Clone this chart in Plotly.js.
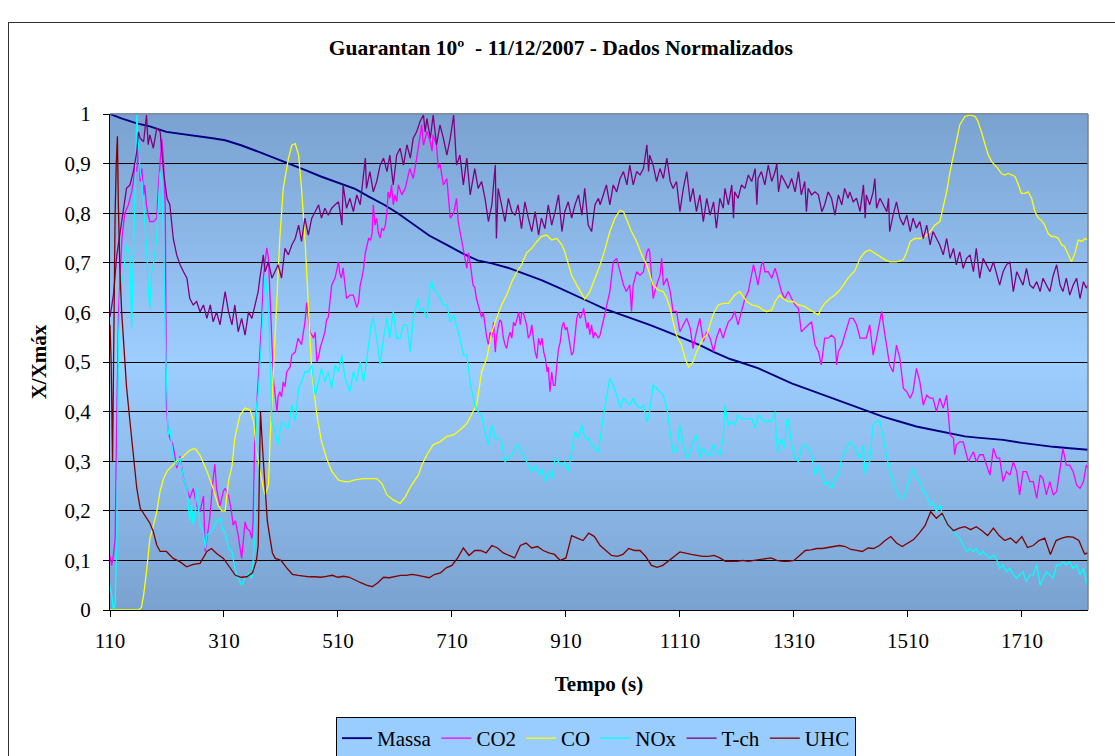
<!DOCTYPE html>
<html>
<head>
<meta charset="utf-8">
<script src="https://cdn.plot.ly/plotly-3.0.1.min.js"></script>
<style>
html,body{margin:0;padding:0;background:#fff;width:1115px;height:756px;overflow:hidden;}
#chart{position:absolute;left:0;top:0;width:1115px;height:756px;}
#frame{position:absolute;left:8px;top:22px;width:1130px;height:760px;border:1px solid #333;pointer-events:none;}
</style>
</head>
<body>
<div id="chart"></div>
<div id="frame"></div>
<script>
// ---------- data ----------
const seriesNames = ["Massa", "CO2", "CO", "NOx", "T-ch", "UHC"];
const xTicks = [110, 310, 510, 710, 910, 1110, 1310, 1510, 1710];
const yTicks = [0, 0.1, 0.2, 0.3, 0.4, 0.5, 0.6, 0.7, 0.8, 0.9, 1];
const yTickText = ["0", "0,1", "0,2", "0,3", "0,4", "0,5", "0,6", "0,7", "0,8", "0,9", "1"];

const massaT = [110,130,157,180,209,230,260,290,312,340,370,400,429,455,480,510,540,565,591,615,642,670,701,730,755,780,808,837,867,895,925,950,978,1000,1028,1057,1087,1115,1145,1170,1198,1220,1248,1275,1306,1335,1364,1390,1417,1440,1466,1495,1525,1555,1584,1610,1636,1677,1710,1736,1765,1794,1826];
const massaV = [1.0,0.991,0.981,0.975,0.964,0.961,0.956,0.951,0.947,0.937,0.924,0.911,0.898,0.886,0.874,0.862,0.849,0.833,0.817,0.8,0.777,0.755,0.736,0.718,0.705,0.699,0.69,0.678,0.665,0.651,0.636,0.622,0.607,0.598,0.588,0.575,0.561,0.548,0.534,0.52,0.506,0.498,0.487,0.473,0.457,0.445,0.433,0.421,0.41,0.4,0.39,0.38,0.37,0.363,0.356,0.35,0.347,0.343,0.337,0.333,0.329,0.326,0.323];

const co2T = [110,113,116,119,122,125,128,131,136,142,148,151,154,157,160,163,166,169,171,174,177,180,186,192,195,198,201,204,207,209,212,215,220,224,227,233,239,245,250,256,262,268,274,277,280,285,291,294,297,303,309,
312,318,323,326,330,335,338,341,344,347,350,355,359,361,364,367,370,373,376,379,382,385,388,391,394,397,400,403,405,408,411,414,417,420,426,429,435,440,446,452,455,458,461,464,467,470,473,476,479,482,487,490,493,499,505,511,513,516,519,525,531,537,
543,546,549,552,555,558,561,564,567,570,572,575,578,581,584,587,590,593,596,598,601,604,607,610,613,616,622,628,636,642,648,654,657,660,666,672,675,677,683,686,689,695,701,704,707,713,718,721,724,730,736,739,742,747,
750,753,759,762,765,768,771,774,777,780,783,786,788,791,794,797,800,803,806,809,812,815,818,821,824,827,830,832,835,838,841,844,847,850,853,856,859,862,865,868,871,874,877,879,882,885,888,891,894,897,900,903,906,909,912,915,918,920,923,926,929,932,935,938,941,944,947,949,952,955,958,961,964,967,970,
976,981,987,993,999,1005,1011,1016,1022,1025,1028,1034,1040,1046,1052,1055,1057,1063,1069,1075,1078,1081,1087,1093,1098,1104,1110,1116,1122,1128,1133,1139,1145,1151,1157,1163,1169,1174,1180,1186,
1189,1195,1201,1206,1212,1218,1224,1230,1236,1239,1242,1247,1253,1256,1259,1265,1271,1277,1282,1288,1294,1300,1306,1312,1318,1323,1329,1335,1341,1347,1353,1358,1364,1370,1376,1382,1385,1388,1394,1399,1405,
1408,1414,1420,1426,1432,1437,1443,1449,1455,1461,1464,1467,1473,1478,1484,1490,1496,1502,1508,1514,1519,1525,1531,1537,1543,1549,1554,1560,1566,1572,1578,1584,1590,1592,1595,1601,1607,1613,1616,
1619,1625,1630,1636,1642,1648,1654,1660,1666,1671,1677,1683,1689,1695,1701,1706,1712,1718,1724,1730,1736,1742,1747,1753,1759,1765,1771,1777,1782,1788,1794,1800,1806,1812,1818,1823,1826];
const co2V = [0.11,0.09,0.11,0.144,0.4,0.6,0.68,0.75,0.8,0.816,0.843,0.864,0.897,0.884,0.937,0.864,0.89,0.836,0.857,0.816,0.796,0.783,0.783,0.79,0.857,0.904,0.95,0.904,0.815,0.413,0.36,0.346,0.335,0.31,0.286,0.31,0.265,0.245,0.225,0.245,0.21,0.198,0.23,0.118,0.145,0.185,0.265,0.294,0.245,0.21,0.24,
0.245,0.23,0.2,0.171,0.18,0.15,0.13,0.104,0.14,0.178,0.165,0.16,0.144,0.178,0.346,0.41,0.447,0.51,0.58,0.669,0.7,0.73,0.71,0.615,0.514,0.46,0.43,0.4,0.43,0.44,0.43,0.46,0.45,0.48,0.49,0.514,0.52,0.548,0.535,0.58,0.62,0.588,0.56,0.555,0.548,0.56,0.5,0.51,0.53,0.54,0.56,0.585,0.59,0.655,0.67,0.702,0.68,0.669,0.69,0.628,0.635,0.635,
0.61,0.62,0.655,0.67,0.689,0.72,0.736,0.75,0.745,0.76,0.817,0.776,0.79,0.76,0.75,0.77,0.765,0.775,0.803,0.843,0.83,0.857,0.817,0.837,0.823,0.857,0.837,0.85,0.89,0.87,0.91,0.95,0.978,0.937,0.965,0.944,0.925,0.958,0.937,0.89,0.9,0.857,0.87,0.83,0.79,0.8,0.83,0.783,0.763,0.722,0.689,0.72,0.7,0.655,
0.65,0.628,0.6,0.59,0.6,0.57,0.55,0.535,0.56,0.55,0.58,0.52,0.55,0.57,0.585,0.58,0.55,0.535,0.527,0.548,0.56,0.548,0.58,0.573,0.588,0.6,0.575,0.598,0.6,0.588,0.575,0.548,0.555,0.575,0.548,0.52,0.507,0.548,0.534,0.548,0.52,0.507,0.48,0.49,0.44,0.48,0.453,0.453,0.494,0.527,0.54,0.57,0.58,0.565,0.57,0.548,0.534,0.514,0.52,0.56,0.588,0.6,0.588,0.595,0.608,0.588,0.568,0.58,0.555,0.575,0.548,0.56,0.555,0.548,0.555,
0.588,0.615,0.642,0.702,0.709,0.682,0.655,0.642,0.655,0.602,0.655,0.682,0.675,0.682,0.722,0.729,0.722,0.628,0.655,0.675,0.709,0.655,0.669,0.642,0.602,0.602,0.561,0.575,0.588,0.568,0.527,0.561,0.588,0.541,0.561,0.548,0.521,0.548,0.568,0.548,
0.561,0.581,0.588,0.602,0.575,0.602,0.628,0.642,0.682,0.696,0.682,0.655,0.696,0.702,0.682,0.682,0.669,0.689,0.669,0.642,0.628,0.642,0.628,0.615,0.608,0.561,0.568,0.575,0.581,0.534,0.521,0.494,0.548,0.548,0.554,0.548,0.494,0.521,0.534,0.554,0.575,
0.588,0.588,0.575,0.548,0.548,0.548,0.575,0.514,0.548,0.588,0.602,0.575,0.534,0.494,0.48,0.534,0.507,0.447,0.44,0.427,0.44,0.487,0.46,0.413,0.433,0.427,0.427,0.4,0.427,0.407,0.433,0.353,0.346,0.313,0.333,0.339,0.339,0.313,0.299,
0.306,0.319,0.299,0.313,0.313,0.292,0.272,0.326,0.306,0.306,0.259,0.279,0.272,0.299,0.279,0.232,0.279,0.279,0.259,0.259,0.225,0.272,0.265,0.232,0.259,0.232,0.239,0.285,0.326,0.292,0.292,0.279,0.252,0.245,0.259,0.292,0.286];

const coT = [110,160,165,169,174,180,186,192,198,204,210,218,227,239,250,259,268,280,291,300,306,312,318,324,329,338,347,356,362,367,373,379,382,388,391,397,403,408,414,423,429,435,441,446,452,458,464,473,481,490,499,511,522,531,537,555,578,587,596,607,619,628,639,651,657,666,677,689,701,713,724,736,748,753,756,762,771,780,788,797,806,815,824,832,841,850,859,867,876,885,894,903,908,914,920,929,938,943,952,961,970,978,987,996,1005,1011,1017,1025,1034,1043,1052,1057,1063,1072,1081,1087,1093,1098,1104,1113,1119,1125,1133,1139,1145,1151,1157,1163,1169,1177,1186,1195,1206,1215,1221,1227,1236,1247,1256,1262,1271,1277,1285,1291,1300,1309,1318,1329,1338,1347,1353,1358,1364,1373,1382,1388,1397,1405,1417,1426,1435,1443,1452,1461,1470,1478,1490,1502,1508,1514,1522,1531,1540,1549,1557,1566,1572,1578,1584,1590,1595,1601,1610,1619,1628,1633,1639,1645,1651,1657,1663,1668,1674,1680,1686,1692,1698,1704,1709,1715,1721,1727,1733,1739,1744,1750,1756,1762,1768,1774,1780,1785,1791,1797,1803,1809,1815,1821,1826];
const coV = [0,0,0.005,0.03,0.077,0.144,0.17,0.198,0.24,0.265,0.28,0.29,0.3,0.31,0.322,0.326,0.312,0.28,0.245,0.21,0.2,0.2,0.26,0.29,0.346,0.393,0.407,0.403,0.38,0.32,0.28,0.245,0.232,0.252,0.346,0.48,0.615,0.75,0.85,0.91,0.937,0.94,0.917,0.85,0.75,0.615,0.48,0.393,0.34,0.306,0.28,0.262,0.259,0.259,0.262,0.265,0.265,0.255,0.232,0.222,0.215,0.228,0.252,0.272,0.292,0.313,0.333,0.339,0.35,0.353,0.363,0.376,0.4,0.413,0.433,0.48,0.507,0.56,0.588,0.615,0.635,0.662,0.682,0.696,0.72,0.729,0.743,0.753,0.756,0.746,0.749,0.736,0.722,0.696,0.675,0.655,0.635,0.627,0.642,0.669,0.696,0.725,0.763,0.79,0.806,0.803,0.786,0.763,0.743,0.716,0.696,0.675,0.655,0.645,0.642,0.628,0.608,0.581,0.554,0.534,0.507,0.49,0.5,0.52,0.534,0.548,0.554,0.575,0.598,0.615,0.618,0.618,0.635,0.642,0.632,0.622,0.615,0.612,0.605,0.601,0.605,0.622,0.635,0.628,0.622,0.622,0.615,0.612,0.605,0.598,0.595,0.608,0.618,0.628,0.635,0.642,0.655,0.669,0.684,0.709,0.722,0.726,0.719,0.712,0.706,0.702,0.702,0.706,0.722,0.743,0.749,0.749,0.753,0.763,0.776,0.783,0.81,0.843,0.884,0.917,0.951,0.978,0.995,0.998,0.995,0.985,0.964,0.938,0.917,0.904,0.897,0.89,0.88,0.877,0.88,0.877,0.874,0.857,0.84,0.84,0.843,0.83,0.803,0.79,0.786,0.776,0.759,0.753,0.753,0.749,0.736,0.733,0.719,0.702,0.719,0.746,0.743,0.749,0.746];

const noxT = [110,113,116,119,122,125,128,133,139,145,148,151,154,157,160,163,166,169,171,174,177,180,183,186,192,195,198,201,204,207,210,212,215,221,227,233,239,245,248,250,253,256,259,262,268,274,277,280,288,297,303,309,
312,318,324,329,335,341,347,353,359,364,367,370,376,382,388,391,394,400,405,411,417,423,429,435,441,446,452,458,464,470,476,481,487,493,499,505,511,517,522,528,
531,537,543,549,555,560,566,569,572,578,584,590,596,601,607,613,619,625,631,637,642,648,651,654,660,666,672,675,677,683,689,695,701,707,713,718,724,730,736,742,748,
750,756,762,768,774,780,786,791,797,803,809,815,821,826,832,838,844,850,856,862,867,873,879,885,891,897,903,908,914,920,926,932,938,943,949,955,961,967,
975,981,987,993,999,1005,1011,1016,1022,1028,1034,1040,1046,1052,1057,1063,1069,1075,1081,1087,1093,1098,1104,1110,1116,1122,1128,1133,1139,1145,1151,1157,1163,1169,1174,1180,1186,
1189,1195,1201,1206,1212,1218,1224,1230,1236,1242,1247,1253,1259,1265,1271,1277,1280,1282,1288,1294,1297,1300,1306,1312,1318,1323,1329,1335,1341,1347,1353,1358,1364,1370,1376,1382,1388,1394,1399,1405,
1408,1414,1420,1426,1432,1435,1437,1443,1449,1455,1461,1467,1473,1478,1484,1490,1496,1502,1508,1514,1519,1525,1531,1537,1543,1549,1554,1560,1566,1572,1578,1584,1590,1595,1601,1607,1613,
1619,1625,1630,1636,1642,1648,1654,1660,1666,1671,1677,1683,1689,1695,1701,1706,1712,1718,1724,1730,1736,1742,1747,1753,1759,1765,1771,1777,1782,1788,1794,1800,1806,1812,1818,1823,1826];
const noxV = [0.05,0.03,0.0,0.01,0.145,0.548,0.642,0.675,0.736,0.716,0.568,0.716,0.884,0.998,0.938,0.884,0.864,0.817,0.783,0.736,0.648,0.608,0.682,0.696,0.749,0.817,0.884,0.857,0.749,0.55,0.413,0.353,0.366,0.306,0.292,0.306,0.265,0.245,0.205,0.178,0.212,0.171,0.192,0.245,0.171,0.158,0.124,0.151,0.158,0.178,0.185,0.158,
0.158,0.124,0.118,0.084,0.064,0.05,0.064,0.074,0.064,0.144,0.413,0.433,0.548,0.675,0.615,0.48,0.38,0.36,0.333,0.38,0.373,0.366,0.413,0.38,0.447,0.46,0.48,0.48,0.494,0.433,0.46,0.487,0.46,0.48,0.447,0.494,0.48,0.514,0.47,0.45,
0.44,0.48,0.46,0.5,0.46,0.5,0.554,0.581,0.588,0.548,0.494,0.548,0.588,0.548,0.602,0.548,0.548,0.575,0.575,0.521,0.588,0.615,0.628,0.602,0.608,0.588,0.655,0.662,0.648,0.642,0.628,0.615,0.615,0.581,0.595,0.575,0.548,0.514,0.514,0.46,0.427,
0.413,0.4,0.393,0.36,0.333,0.373,0.346,0.346,0.339,0.299,0.306,0.312,0.326,0.333,0.319,0.306,0.292,0.279,0.292,0.272,0.286,0.259,0.279,0.265,0.306,0.299,0.292,0.299,0.279,0.319,0.36,0.346,0.373,0.346,0.346,0.333,0.326,0.319,
0.386,0.427,0.467,0.454,0.433,0.407,0.427,0.42,0.413,0.427,0.413,0.407,0.413,0.38,0.4,0.454,0.447,0.44,0.433,0.407,0.36,0.319,0.319,0.373,0.333,0.306,0.319,0.339,0.353,0.306,0.326,0.313,0.313,0.333,0.319,0.313,0.346,
0.413,0.373,0.38,0.373,0.393,0.386,0.386,0.386,0.386,0.366,0.393,0.386,0.38,0.38,0.38,0.4,0.333,0.319,0.346,0.326,0.38,0.386,0.333,0.306,0.299,0.326,0.333,0.326,0.313,0.272,0.292,0.279,0.252,0.259,0.245,0.265,0.272,0.306,0.319,0.333,
0.339,0.333,0.319,0.306,0.333,0.272,0.292,0.299,0.373,0.38,0.38,0.346,0.313,0.279,0.259,0.239,0.225,0.225,0.245,0.272,0.286,0.265,0.259,0.239,0.232,0.212,0.218,0.198,0.212,0.185,0.178,0.165,0.158,0.151,0.144,0.131,0.118,
0.124,0.118,0.124,0.111,0.118,0.111,0.104,0.111,0.101,0.084,0.091,0.077,0.084,0.071,0.064,0.071,0.077,0.057,0.071,0.071,0.091,0.05,0.064,0.077,0.071,0.064,0.091,0.091,0.097,0.091,0.097,0.084,0.091,0.071,0.084,0.057,0.05];

const tchT = [110,116,122,128,133,139,145,151,157,160,163,169,174,177,180,186,192,198,204,210,215,221,227,233,239,245,250,256,262,268,274,280,286,291,297,303,
312,318,324,329,335,341,347,353,359,365,370,373,379,382,388,394,400,405,411,417,423,429,435,441,446,452,458,464,470,476,481,487,493,499,505,511,517,519,525,
531,537,543,549,558,560,566,572,578,584,590,596,601,607,613,619,625,631,637,642,648,654,660,663,666,672,677,683,689,695,701,707,713,718,724,730,736,742,748,
750,756,762,768,774,780,786,788,791,797,803,809,815,821,826,832,838,844,850,856,862,867,873,879,885,891,897,903,908,914,920,926,932,938,943,949,955,961,967,
970,976,981,987,993,999,1005,1011,1017,1022,1028,1034,1040,1046,1052,1055,1057,1063,1069,1075,1081,1087,1093,1098,1104,1110,1116,1122,1128,1133,1139,1145,1151,1157,1163,1169,1174,1180,1186,
1189,1195,1201,1204,1206,1212,1218,1224,1230,1236,1242,1245,1247,1253,1259,1265,1271,1277,1280,1283,1288,1294,1300,1306,1312,1318,1323,1329,1332,1335,1341,1347,1353,1359,1364,1370,1376,1382,1388,1394,1399,1405,
1408,1414,1420,1426,1432,1435,1437,1443,1449,1452,1455,1461,1467,1473,1476,1478,1484,1490,1496,1502,1508,1514,1519,1525,1531,1537,1543,1549,1554,1560,1566,1572,1578,1584,1590,1595,1601,1607,1613,
1619,1625,1630,1636,1642,1648,1654,1660,1666,1671,1677,1683,1689,1695,1701,1706,1712,1718,1724,1730,1736,1742,1747,1753,1759,1765,1771,1777,1782,1788,1794,1800,1806,1812,1818,1823,1826];
const tchV = [0.591,0.635,0.716,0.763,0.803,0.85,0.857,0.884,0.924,0.964,0.951,0.944,0.998,0.938,0.958,0.931,0.971,0.964,0.884,0.83,0.817,0.749,0.716,0.696,0.682,0.669,0.628,0.615,0.622,0.601,0.615,0.588,0.615,0.581,0.601,0.575,
0.642,0.601,0.575,0.615,0.561,0.588,0.554,0.601,0.588,0.615,0.642,0.669,0.716,0.682,0.702,0.669,0.682,0.696,0.669,0.729,0.716,0.736,0.749,0.776,0.743,0.79,0.756,0.79,0.803,0.817,0.79,0.81,0.796,0.81,0.817,0.823,0.776,0.857,0.81,
0.83,0.803,0.837,0.817,0.911,0.85,0.884,0.843,0.864,0.897,0.911,0.884,0.917,0.857,0.917,0.931,0.897,0.938,0.911,0.951,0.964,0.985,0.998,0.964,0.991,0.951,0.998,0.938,0.978,0.951,0.917,0.951,0.998,0.897,0.917,0.857,0.911,0.837,0.884,
0.89,0.85,0.864,0.83,0.783,0.817,0.897,0.749,0.85,0.817,0.783,0.83,0.803,0.796,0.817,0.769,0.823,0.79,0.763,0.803,0.756,0.79,0.769,0.817,0.776,0.803,0.837,0.763,0.803,0.823,0.79,0.817,0.837,0.796,0.85,0.776,0.763,0.817,0.83,
0.817,0.837,0.857,0.817,0.857,0.843,0.87,0.884,0.857,0.897,0.857,0.884,0.877,0.89,0.938,0.884,0.917,0.897,0.864,0.89,0.87,0.911,0.864,0.85,0.864,0.803,0.85,0.884,0.823,0.85,0.803,0.837,0.783,0.83,0.796,0.823,0.77,0.83,0.81,
0.85,0.817,0.857,0.79,0.843,0.83,0.857,0.85,0.877,0.864,0.89,0.817,0.87,0.884,0.857,0.897,0.864,0.884,0.9,0.843,0.877,0.864,0.85,0.87,0.843,0.884,0.837,0.864,0.803,0.85,0.837,0.843,0.837,0.803,0.817,0.843,0.83,0.796,0.837,0.817,0.85,0.83,
0.843,0.823,0.83,0.803,0.857,0.79,0.837,0.817,0.843,0.87,0.81,0.83,0.817,0.803,0.83,0.763,0.796,0.823,0.79,0.776,0.796,0.763,0.79,0.77,0.783,0.749,0.776,0.736,0.763,0.749,0.736,0.716,0.749,0.709,0.729,0.696,0.722,0.689,0.709,
0.716,0.682,0.729,0.669,0.709,0.696,0.682,0.702,0.675,0.655,0.682,0.696,0.702,0.642,0.682,0.669,0.655,0.689,0.655,0.649,0.662,0.642,0.669,0.655,0.642,0.675,0.696,0.655,0.642,0.669,0.635,0.655,0.669,0.628,0.662,0.649,0.655];

const uhcT = [110,112,114.5,117,119,121,123,124.6,127.5,130.5,133.4,139,145,151,157,163,168.5,174,180,186,192,198,209,221,233,244.5,256,268,280,288,297,309,318,330,340,350,360,367,370,374,378,382,386,390,395,400,410,420,430,440,450,460,470,480,490,500,510,520,530,540,550,560,570,580,590,600,610,620,630,640,650,660,670,680,690,700,710,720,730,740,750,760,770,780,790,800,810,820,830,840,850,860,870,880,890,900,910,920,930,940,950,960,970,980,990,1000,1010,1020,1030,1040,1050,1060,1070,1080,1090,1100,1110,1120,1130,1140,1150,1160,1170,1180,1190,1200,1210,1220,1230,1240,1250,1260,1270,1280,1290,1300,1310,1320,1330,1340,1350,1360,1370,1380,1390,1400,1410,1420,1430,1440,1450,1460,1470,1480,1490,1500,1510,1520,1530,1540,1550,1560,1570,1580,1590,1600,1610,1620,1630,1640,1650,1660,1670,1680,1690,1700,1710,1720,1730,1740,1750,1760,1770,1780,1790,1800,1810,1820,1826];
const uhcV = [0.575,0.5,0.3,0.6,0.8,0.9,0.955,0.82,0.68,0.6,0.55,0.45,0.38,0.305,0.245,0.205,0.195,0.185,0.175,0.158,0.131,0.118,0.118,0.104,0.097,0.087,0.092,0.094,0.118,0.124,0.114,0.104,0.09,0.07,0.066,0.067,0.075,0.1,0.13,0.4,0.32,0.24,0.18,0.15,0.115,0.104,0.1,0.085,0.072,0.07,0.068,0.067,0.067,0.066,0.068,0.07,0.066,0.068,0.066,0.06,0.055,0.05,0.047,0.055,0.066,0.065,0.068,0.07,0.07,0.072,0.07,0.068,0.065,0.072,0.075,0.085,0.09,0.105,0.125,0.11,0.12,0.12,0.115,0.13,0.125,0.115,0.11,0.105,0.13,0.135,0.125,0.128,0.12,0.115,0.112,0.1,0.105,0.15,0.145,0.14,0.155,0.148,0.13,0.12,0.11,0.108,0.112,0.124,0.12,0.12,0.108,0.09,0.086,0.09,0.1,0.108,0.117,0.114,0.112,0.11,0.108,0.108,0.11,0.105,0.098,0.098,0.098,0.1,0.098,0.1,0.102,0.104,0.105,0.1,0.098,0.098,0.1,0.11,0.12,0.121,0.124,0.124,0.126,0.128,0.13,0.128,0.122,0.12,0.118,0.125,0.124,0.13,0.14,0.148,0.135,0.128,0.135,0.142,0.155,0.17,0.198,0.185,0.195,0.172,0.16,0.165,0.168,0.162,0.168,0.16,0.15,0.165,0.15,0.14,0.145,0.135,0.148,0.126,0.13,0.14,0.145,0.112,0.14,0.145,0.148,0.147,0.14,0.113,0.115];

const colors = ["#000080", "#ff00ff", "#ffff00", "#00ffff", "#800080", "#800000"];

// ---------- chart ----------
const FONT = '"Liberation Serif", "Times New Roman", serif';
const FS = 21;
const xs = [massaT, co2T, coT, noxT, tchT, uhcT];
const ys = [massaV, co2V, coV, noxV, tchV, uhcV];
const traces = seriesNames.map((n, i) => ({
  type: 'scatter', mode: 'lines', name: n,
  x: xs[i], y: ys[i],
  line: {color: colors[i], width: i === 0 ? 1.9 : 1.3},
  hoverinfo: 'x+y+name'
}));

// gradient plot background (style only)
const edge = [122, 162, 208], center = [157, 206, 255];
const shapes = [];
const N = 124;
for (let k = 0; k < N; k++) {
  const m = (k + 0.5) / N;
  const f = Math.abs(m - 0.5) / 0.5;
  const c = edge.map((e, j) => Math.round(center[j] + (e - center[j]) * f));
  shapes.push({type: 'rect', xref: 'paper', yref: 'paper', x0: 0, x1: 1, y0: k / N, y1: (k + 1) / N + 0.002,
    fillcolor: `rgb(${c[0]},${c[1]},${c[2]})`, line: {width: 0}, layer: 'below'});
}
shapes.push({type: 'line', xref: 'paper', yref: 'paper', x0: 0, x1: 1, y0: 1, y1: 1, line: {color: '#808080', width: 1}, layer: 'above'});
shapes.push({type: 'line', xref: 'paper', yref: 'paper', x0: 1, x1: 1, y0: 0, y1: 1, line: {color: '#808080', width: 1.5}, layer: 'above'});

const layout = {
  width: 1115, height: 756,
  margin: {l: 110, r: 27, t: 114, b: 146, autoexpand: false},
  paper_bgcolor: '#ffffff', plot_bgcolor: 'rgb(140,185,232)',
  font: {family: FONT, color: '#000', size: FS},
  title: {text: '<b>Guarantan 10º  - 11/12/2007 - Dados Normalizados</b>', font: {family: FONT, size: 21.5, color: '#000'},
    xref: 'container', yref: 'container', x: 0.503, xanchor: 'center', y: 1 - 47/756, yanchor: 'middle'},
  xaxis: {
    range: [110, 1826], tickvals: xTicks, ticktext: xTicks.map(String),
    ticks: 'outside', ticklen: 6, tickcolor: '#000', tickwidth: 1,
    showline: true, linecolor: '#000', linewidth: 1, showgrid: false, zeroline: false,
    tickfont: {family: FONT, size: FS, color: '#000'}, ticklabelstandoff: 6,
    title: {text: '<b>Tempo (s)</b>', font: {family: FONT, size: FS, color: '#000'}, standoff: 24}
  },
  yaxis: {
    range: [0, 1], tickvals: yTicks, ticktext: yTickText,
    ticks: 'outside', ticklen: 6, tickcolor: '#000', tickwidth: 1,
    showline: true, linecolor: '#000', linewidth: 1,
    showgrid: true, gridcolor: '#000000', gridwidth: 1, zeroline: false,
    tickfont: {family: FONT, size: FS, color: '#000'}, ticklabelstandoff: 8,
    title: {text: '<b>X/Xmáx</b>', font: {family: FONT, size: FS, color: '#000'}, standoff: 12}
  },
  shapes: shapes,
  showlegend: true,
  legend: {orientation: 'h', x: 0.497, xanchor: 'center', y: (610 - 717) / 496, yanchor: 'top',
    bgcolor: '#99ccff', bordercolor: '#000', borderwidth: 1,
    font: {family: FONT, size: FS, color: '#000'}, traceorder: 'normal'}
};

Plotly.newPlot('chart', traces, layout, {displayModeBar: false, staticPlot: true});
</script>
</body>
</html>
